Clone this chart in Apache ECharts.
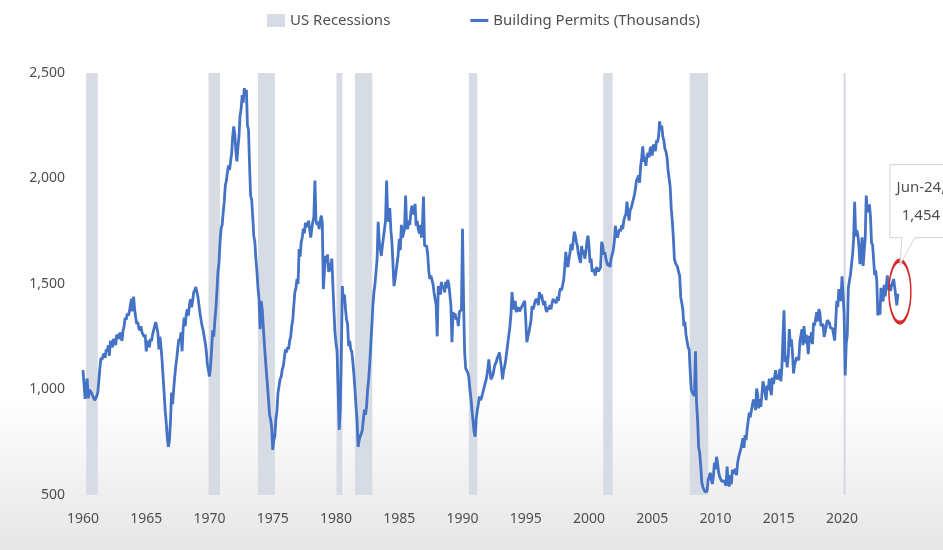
<!DOCTYPE html>
<html>
<head>
<meta charset="utf-8">
<title>US Building Permits</title>
<script src="https://cdn.jsdelivr.net/npm/echarts@6/dist/echarts.min.js"></script>
<style>
  html, body { margin: 0; padding: 0; background: #fff; }
  #chart { width: 943px; height: 550px; }
</style>
</head>
<body>
<div id="chart"></div>
<script>
// Monthly building permits, seasonally adjusted annual rate (thousands), Jan 1960 onward
const startYear = 1960;
const permits1960s = [
  1092, 1088, 955, 1016, 1052, 958, 999, 994, 984, 972, 979, 949,
  958, 968, 985, 1040, 1100, 1150, 1140, 1160, 1170, 1150, 1190, 1180,
  1210, 1160, 1230, 1220, 1200, 1240, 1230, 1210, 1260, 1250, 1240, 1270,
  1250, 1230, 1280, 1300, 1340, 1330, 1360, 1350, 1370, 1400, 1430, 1370,
  1440, 1380, 1340, 1310, 1320, 1290, 1280, 1300, 1270, 1260, 1250, 1260,
  1181, 1220, 1230, 1200, 1240, 1230, 1260, 1280, 1300, 1320, 1324, 1270,
  1190, 1250, 1200, 1140, 1060, 980, 900, 840, 770, 728, 760, 850,
  986, 930, 1000, 1060, 1110, 1150, 1200, 1240, 1230, 1271, 1181, 1290,
  1340, 1300, 1360, 1380, 1350, 1400, 1428, 1390, 1420, 1460, 1470, 1486,
  1490, 1440, 1400, 1360, 1330, 1300, 1280, 1250, 1220, 1180, 1120, 1090
];
const permits1970s = [
  1062, 1110, 1190, 1280, 1250, 1320, 1380, 1460, 1557, 1600, 1700, 1762,
  1780, 1840, 1890, 1967, 1990, 2030, 2062, 2040, 2080, 2120, 2200, 2247,
  2210, 2130, 2081, 2150, 2200, 2300, 2330, 2395, 2360, 2428, 2400, 2420,
  2252, 2230, 2062, 1919, 1900, 1820, 1729, 1700, 1620, 1560, 1480, 1428,
  1286, 1420, 1380, 1300, 1220, 1150, 1081, 1020, 950, 880, 857, 820,
  714, 760, 780, 860, 900, 986, 990, 1050, 1060, 1095, 1110, 1150,
  1190, 1176, 1200, 1190, 1230, 1250, 1300, 1330, 1400, 1462, 1480, 1524,
  1500, 1666, 1630, 1700, 1720, 1762, 1740, 1790, 1780, 1770, 1800, 1760,
  1720, 1760, 1795, 1820, 1990, 1800, 1780, 1795, 1760, 1800, 1824, 1790,
  1476, 1560, 1633, 1600, 1640, 1557, 1600, 1560, 1620, 1500, 1380, 1271
];
const permits1980s = [
  1220, 1180, 1000, 809, 900, 1150, 1490, 1420, 1450, 1380, 1333, 1310,
  1205, 1230, 1190, 1180, 1130, 1070, 1000, 920, 850, 728, 760, 780,
  790, 810, 860, 905, 880, 920, 1000, 1048, 1120, 1210, 1300, 1400,
  1462, 1500, 1560, 1620, 1795, 1700, 1700, 1633, 1680, 1720, 1760, 1800,
  1990, 1820, 1795, 1860, 1760, 1700, 1600, 1490, 1520, 1560, 1600, 1640,
  1714, 1660, 1780, 1720, 1740, 1760, 1919, 1776, 1760, 1800, 1780, 1840,
  1871, 1840, 1830, 1880, 1776, 1800, 1760, 1740, 1780, 1720, 1780, 1914,
  1681, 1690, 1681, 1640, 1560, 1524, 1540, 1520, 1500, 1460, 1430, 1400,
  1252, 1490, 1470, 1450, 1510, 1480, 1490, 1460, 1510, 1480, 1520, 1500,
  1450, 1400, 1224, 1367, 1340, 1360, 1330, 1340, 1300, 1367, 1360, 1380
];
const permits1990s = [
  1762, 1420, 1180, 1100, 1090, 1080, 1060, 1000, 960, 900, 850, 800,
  776, 860, 900, 930, 967, 950, 960, 980, 1000, 1020, 1040, 1060,
  1100, 1143, 1090, 1048, 1060, 1070, 1100, 1120, 1130, 1150, 1160, 1176,
  1176, 1100, 1048, 1090, 1110, 1140, 1180, 1220, 1260, 1300, 1360, 1462,
  1400, 1380, 1420, 1367, 1380, 1390, 1370, 1380, 1390, 1400, 1410, 1420,
  1330, 1224, 1250, 1270, 1300, 1330, 1395, 1380, 1400, 1420, 1430, 1420,
  1400, 1462, 1430, 1450, 1420, 1400, 1420, 1380, 1367, 1390, 1380, 1400,
  1380, 1410, 1430, 1420, 1428, 1410, 1440, 1420, 1460, 1480, 1470, 1476,
  1520, 1580, 1652, 1600, 1580, 1620, 1650, 1690, 1660, 1700, 1748, 1730,
  1700, 1680, 1640, 1619, 1600, 1680, 1640, 1660, 1620, 1650, 1700, 1729
];
const permits2000s = [
  1680, 1600, 1620, 1557, 1570, 1560, 1540, 1580, 1570, 1560, 1557, 1580,
  1700, 1680, 1640, 1650, 1620, 1600, 1586, 1600, 1580, 1620, 1640, 1660,
  1700, 1776, 1740, 1720, 1740, 1760, 1750, 1780, 1760, 1800, 1820, 1830,
  1890, 1840, 1800, 1850, 1860, 1880, 1900, 1920, 1950, 1990, 2000, 2014,
  1980, 2060, 2100, 2152, 2080, 2100, 2060, 2110, 2120, 2100, 2140, 2150,
  2109, 2160, 2150, 2130, 2180, 2170, 2200, 2271, 2230, 2250, 2200, 2180,
  2140, 2128, 2100, 2040, 2000, 1960, 1857, 1800, 1720, 1619, 1600, 1600,
  1580, 1557, 1540, 1440, 1410, 1380, 1300, 1320, 1260, 1230, 1200, 1190,
  1084, 1000, 986, 980, 969, 1181, 937, 857, 728, 700, 636, 560,
  538, 547, 514, 505, 518, 570, 565, 605, 575, 552, 589, 653
];
const permits2010s = [
  622, 681, 650, 606, 586, 583, 565, 571, 567, 557, 544, 635,
  563, 540, 594, 551, 619, 624, 601, 625, 594, 653, 681, 700,
  717, 715, 769, 723, 784, 760, 811, 803, 890, 868, 900, 909,
  952, 939, 902, 1005, 975, 911, 954, 918, 974, 1039, 1014, 986,
  950, 1018, 997, 1052, 1005, 973, 1057, 1026, 1032, 1092, 1052, 1048,
  1053, 1098, 1038, 1109, 1250, 1375, 1130, 1161, 1105, 1157, 1286, 1204,
  1238, 1177, 1076, 1116, 1136, 1153, 1144, 1139, 1225, 1229, 1286, 1210,
  1300, 1219, 1260, 1229, 1168, 1254, 1223, 1272, 1215, 1316, 1303, 1300,
  1366, 1323, 1381, 1364, 1301, 1292, 1311, 1249, 1270, 1265, 1328, 1326,
  1317, 1291, 1288, 1290, 1294, 1232, 1317, 1419, 1391, 1476, 1474, 1420
];
const permits2020s = [
  1536, 1452, 1356, 1066, 1216, 1258, 1483, 1476, 1545, 1545, 1639, 1709,
  1890, 1726, 1755, 1733, 1683, 1594, 1630, 1721, 1586, 1653, 1717, 1919,
  1841, 1857, 1877, 1819, 1695, 1685, 1685, 1542, 1564, 1512, 1351, 1409,
  1354, 1482, 1437, 1417, 1496, 1441, 1443, 1541, 1471, 1498, 1467, 1493,
  1489, 1523, 1485, 1440, 1399, 1454
];

// NBER recession periods as [start, end] in decimal years
const recessions = [
  [1960.25, 1961.17], [1969.92, 1970.83], [1973.83, 1975.17],
  [1980.04, 1980.5], [1981.5, 1982.87], [1990.5, 1991.17],
  [2001.12, 2001.87], [2007.96, 2009.42], [2020.12, 2020.3]
];

const yTicks = [500, 1000, 1500, 2000, 2500];
const xTickStep = 5;
const monthNames = ['Jan','Feb','Mar','Apr','May','Jun','Jul','Aug','Sep','Oct','Nov','Dec'];

const permits = [].concat(permits1960s, permits1970s, permits1980s,
  permits1990s, permits2000s, permits2010s, permits2020s);
const permitPoints = permits.map((v, i) => [startYear + i / 12, v]);
const lastIdx = permits.length - 1;
const lastPoint = permitPoints[lastIdx];
const lastYear = startYear + Math.floor(lastIdx / 12);
const calloutDate = monthNames[lastIdx % 12] + '-' + String(lastYear).slice(2) + ',';
const calloutValue = permits[lastIdx].toLocaleString('en-US');

const FONT = '"Noto Sans", "Liberation Sans", sans-serif';
const TEXT_COLOR = '#4f4f4f';
const LINE_COLOR = '#4472c4';
const REC_COLOR = '#d6dbe4';

const chart = echarts.init(document.getElementById('chart'), null, { renderer: 'canvas' });

chart.setOption({
  animation: false,
  backgroundColor: {
    type: 'linear', x: 0, y: 0, x2: 0, y2: 1,
    colorStops: [
      { offset: 0, color: '#ffffff' },
      { offset: 0.72, color: '#ffffff' },
      { offset: 1, color: '#e6e6e6' }
    ]
  },
  textStyle: { fontFamily: FONT },
  legend: {
    top: 8,
    left: 262,
    itemGap: 80,
    itemWidth: 18,
    itemHeight: 13,
    textStyle: { color: TEXT_COLOR, fontSize: 15, fontFamily: FONT },
    data: [
      { name: 'US Recessions', icon: 'rect' },
      { name: 'Building Permits (Thousands)', icon: 'path://M0,0H60V10H0Z' }
    ]
  },
  grid: { left: 83, right: 39, top: 73, bottom: 55 },
  xAxis: {
    type: 'value',
    min: startYear,
    max: 2024.9,
    interval: xTickStep,
    axisLine: { show: false },
    axisTick: { show: false },
    splitLine: { show: false },
    axisLabel: {
      color: TEXT_COLOR,
      fontSize: 14,
      fontFamily: FONT,
      margin: 17,
      showMaxLabel: false,
      formatter: v => (Math.abs(v % xTickStep) < 1e-6 ? String(v) : '')
    }
  },
  yAxis: {
    type: 'value',
    min: yTicks[0],
    max: yTicks[yTicks.length - 1],
    interval: yTicks[1] - yTicks[0],
    axisLine: { show: false },
    axisTick: { show: false },
    splitLine: { show: false },
    axisLabel: {
      color: TEXT_COLOR,
      fontSize: 14,
      fontFamily: FONT,
      margin: 18,
      formatter: v => v.toLocaleString('en-US')
    }
  },
  series: [
    {
      name: 'US Recessions',
      type: 'custom',
      z: 1,
      silent: true,
      itemStyle: { color: REC_COLOR },
      encode: { x: [0, 1] },
      data: recessions,
      renderItem: (params, api) => {
        const yLo = yTicks[0];
        const yHi = yTicks[yTicks.length - 1];
        const p0 = api.coord([api.value(0), yHi]);
        const p1 = api.coord([api.value(1), yLo]);
        return {
          type: 'rect',
          shape: { x: p0[0], y: p0[1], width: Math.max(p1[0] - p0[0], 2), height: p1[1] - p0[1] },
          style: { fill: REC_COLOR }
        };
      }
    },
    {
      name: 'Building Permits (Thousands)',
      type: 'line',
      z: 2,
      symbol: 'none',
      itemStyle: { color: LINE_COLOR },
      lineStyle: { color: LINE_COLOR, width: 2.8 },
      data: permitPoints,
      markPoint: {
        silent: true,
        animation: false,
        data: [{
          coord: lastPoint,
          symbol: 'path://M0,50A50,50,0,1,1,100,50A50,50,0,1,1,0,50Z',
          symbolSize: [22, 62],
          symbolOffset: [2, -2],
          itemStyle: { color: 'rgba(0,0,0,0)', borderColor: '#d42b2b', borderWidth: 2.5 },
          label: { show: false }
        }]
      }
    }
  ]
});

// Data callout for the latest reading, anchored to the last point
const [px, py] = chart.convertToPixel({ xAxisIndex: 0, yAxisIndex: 0 }, lastPoint);
const boxL = px - 8, boxR = px + 62, boxT = py - 129, boxB = py - 56;
chart.setOption({
  graphic: [
    {
      type: 'polygon',
      z: 10,
      silent: true,
      shape: {
        points: [
          [boxL, boxT], [boxR, boxT], [boxR, boxB],
          [px + 17, boxB], [px + 2, py - 29], [px + 4, boxB], [boxL, boxB]
        ]
      },
      style: { fill: '#ffffff', stroke: '#d3d3d3', lineWidth: 1 }
    },
    {
      type: 'text',
      z: 11,
      silent: true,
      x: px + 23,
      y: py - 106,
      style: {
        text: calloutDate, fill: TEXT_COLOR, font: '15px ' + FONT,
        align: 'center', verticalAlign: 'middle'
      }
    },
    {
      type: 'text',
      z: 11,
      silent: true,
      x: px + 23,
      y: py - 78,
      style: {
        text: calloutValue, fill: TEXT_COLOR, font: '15px ' + FONT,
        align: 'center', verticalAlign: 'middle'
      }
    }
  ]
});
</script>
</body>
</html>
